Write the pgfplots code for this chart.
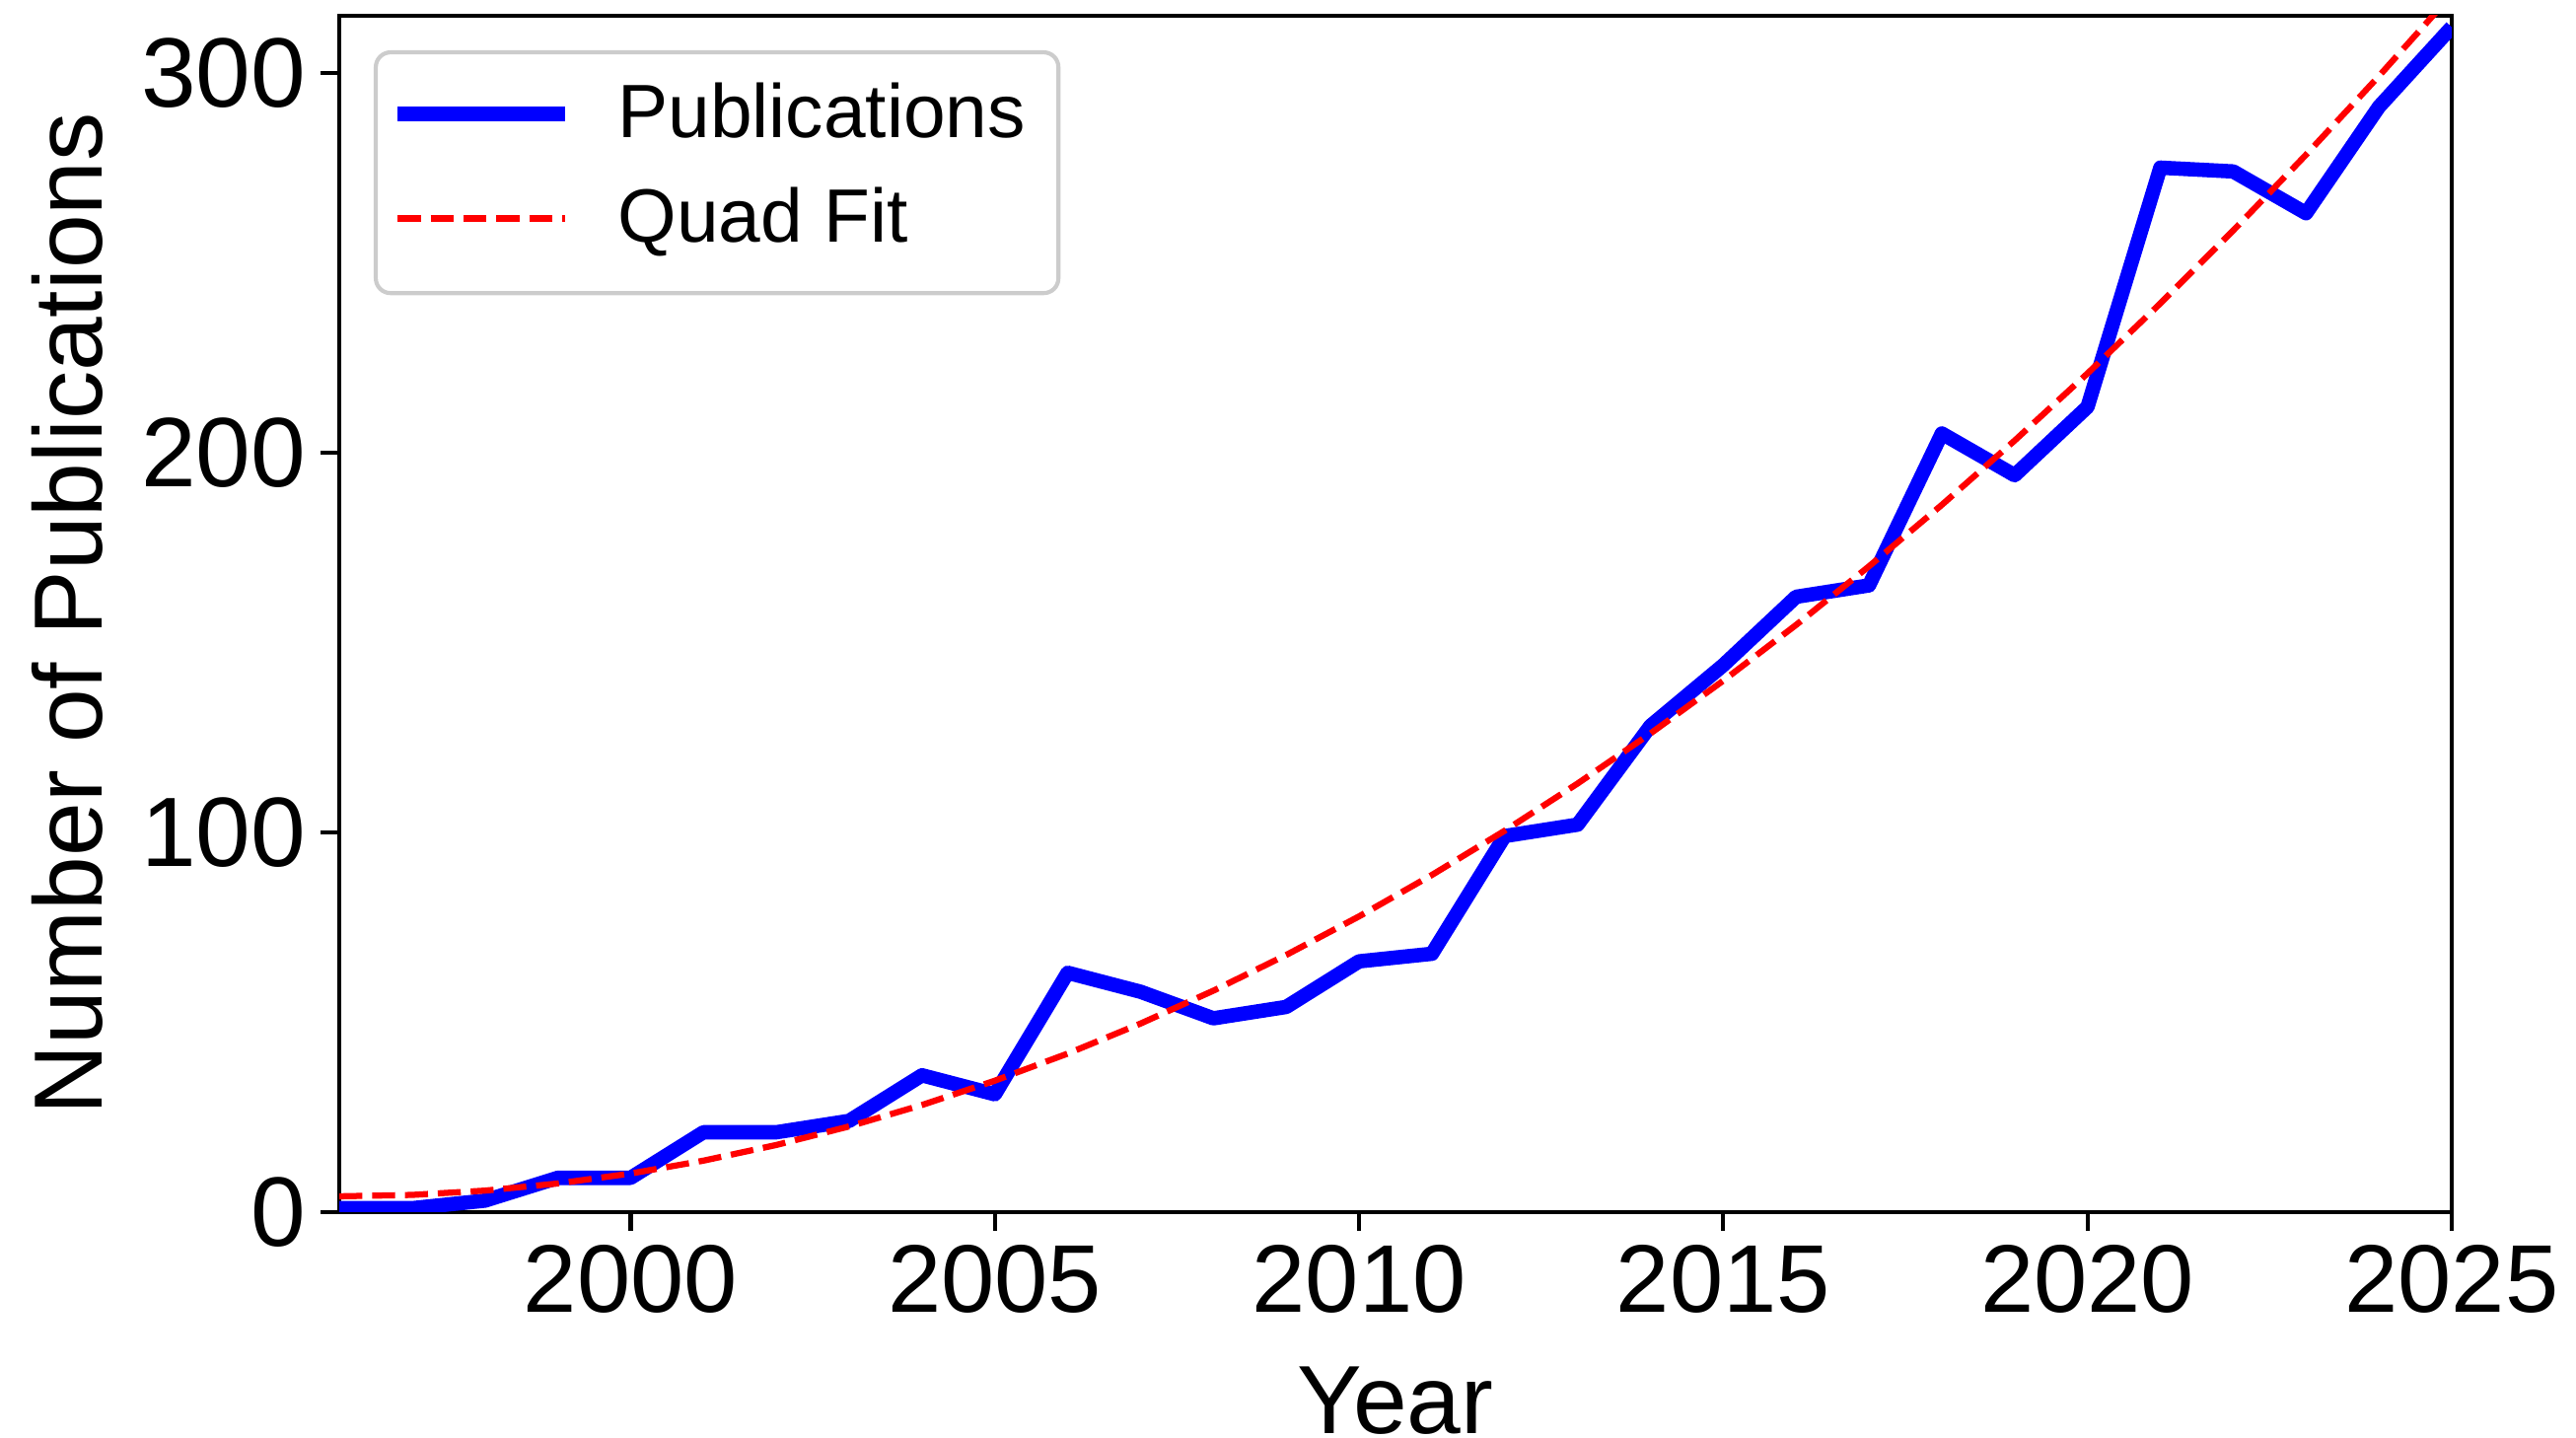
\documentclass[border=0pt]{standalone}
\usepackage{fontspec}
\setmainfont{Liberation Sans}
\usepackage{pgfplots}
\pgfplotsset{compat=1.18}
\begin{document}
\begin{tikzpicture}
\begin{axis}[
  name=ax,
  scale only axis,
  width=514.1pt, height=291.1pt,
  xmin=1996, xmax=2025, ymin=0, ymax=315,
  xtick={2000,2005,2010,2015,2020,2025},
  ytick={0,100,200,300},
  tick align=outside,
  tick pos=left,
  major tick length=4.6pt,
  every tick/.style={black, line width=1pt},
  axis line style={line width=1pt},
  /pgf/number format/assume math mode=true,
  /pgf/number format/1000 sep={},
  tick label style={font=\fontsize{23.4}{28}\selectfont},
  yticklabel style={font=\fontsize{24}{28}\selectfont},
  label style={font=\fontsize{23.6}{28}\selectfont},
  xlabel={Year},
  ylabel={Number of Publications},
  xlabel style={at={([yshift=-53.8pt]axis description cs:0.5,0)}, anchor=base},
  ylabel style={at={([xshift=-57.8pt]axis description cs:0,0.5)}, anchor=base},
  legend cell align=left,
  legend image code/.code={\draw[#1] (0pt,0pt) -- (40.8pt,0pt);},
  legend style={
    name=leg,
    at={([xshift=8.9pt,yshift=-8.9pt]axis description cs:0,1)},
    anchor=north west,
    draw=none, fill=none,
    font=\fontsize{18.4}{22}\selectfont,
    inner xsep=3.4pt, inner ysep=7.4pt,
    nodes={inner sep=0pt, text height=13.2pt},
    row sep=10.8pt, column sep=11pt,
  },
]
\addplot[blue, line width=3.5pt, line join=round] coordinates {
(1996,1) (1997,1) (1998,3) (1999,9) (2000,9) (2001,21) (2002,21) (2003,24)
(2004,36) (2005,31) (2006,63) (2007,58) (2008,51) (2009,54) (2010,66)
(2011,68) (2012,99) (2013,102) (2014,128) (2015,144) (2016,162) (2017,165)
(2018,205) (2019,194) (2020,212) (2021,275) (2022,274) (2023,263) (2024,291)
(2025,312)
};
\addlegendentry{Publications\hspace*{4.4pt}}
\addplot[red, line width=1.5pt, dash pattern=on 5.6pt off 2.4pt] coordinates {
(1996,4.13) (1997,4.50) (1998,5.63) (1999,7.51) (2000,10.13) (2001,13.52)
(2002,17.65) (2003,22.54) (2004,28.18) (2005,34.58) (2006,41.72) (2007,49.62)
(2008,58.28) (2009,67.68) (2010,77.84) (2011,88.75) (2012,100.41) (2013,112.83)
(2014,126.00) (2015,139.92) (2016,154.60) (2017,170.02) (2018,186.20)
(2019,203.14) (2020,220.82) (2021,239.26) (2022,258.45) (2023,278.40)
(2024,299.10) (2025,320.55)
};
\addlegendentry{Quad Fit\rule[-7.6pt]{0pt}{7.6pt}}
\end{axis}
\draw[black!20, line width=1pt, rounded corners=3.6pt] (leg.north west) rectangle ([yshift=-3.2pt]leg.south east);
\pgfresetboundingbox
\path[use as bounding box] ([xshift=-82.56pt,yshift=-54.96pt]ax.south west) rectangle ([xshift=30.24pt,yshift=3.84pt]ax.north east);
\end{tikzpicture}
\end{document}
